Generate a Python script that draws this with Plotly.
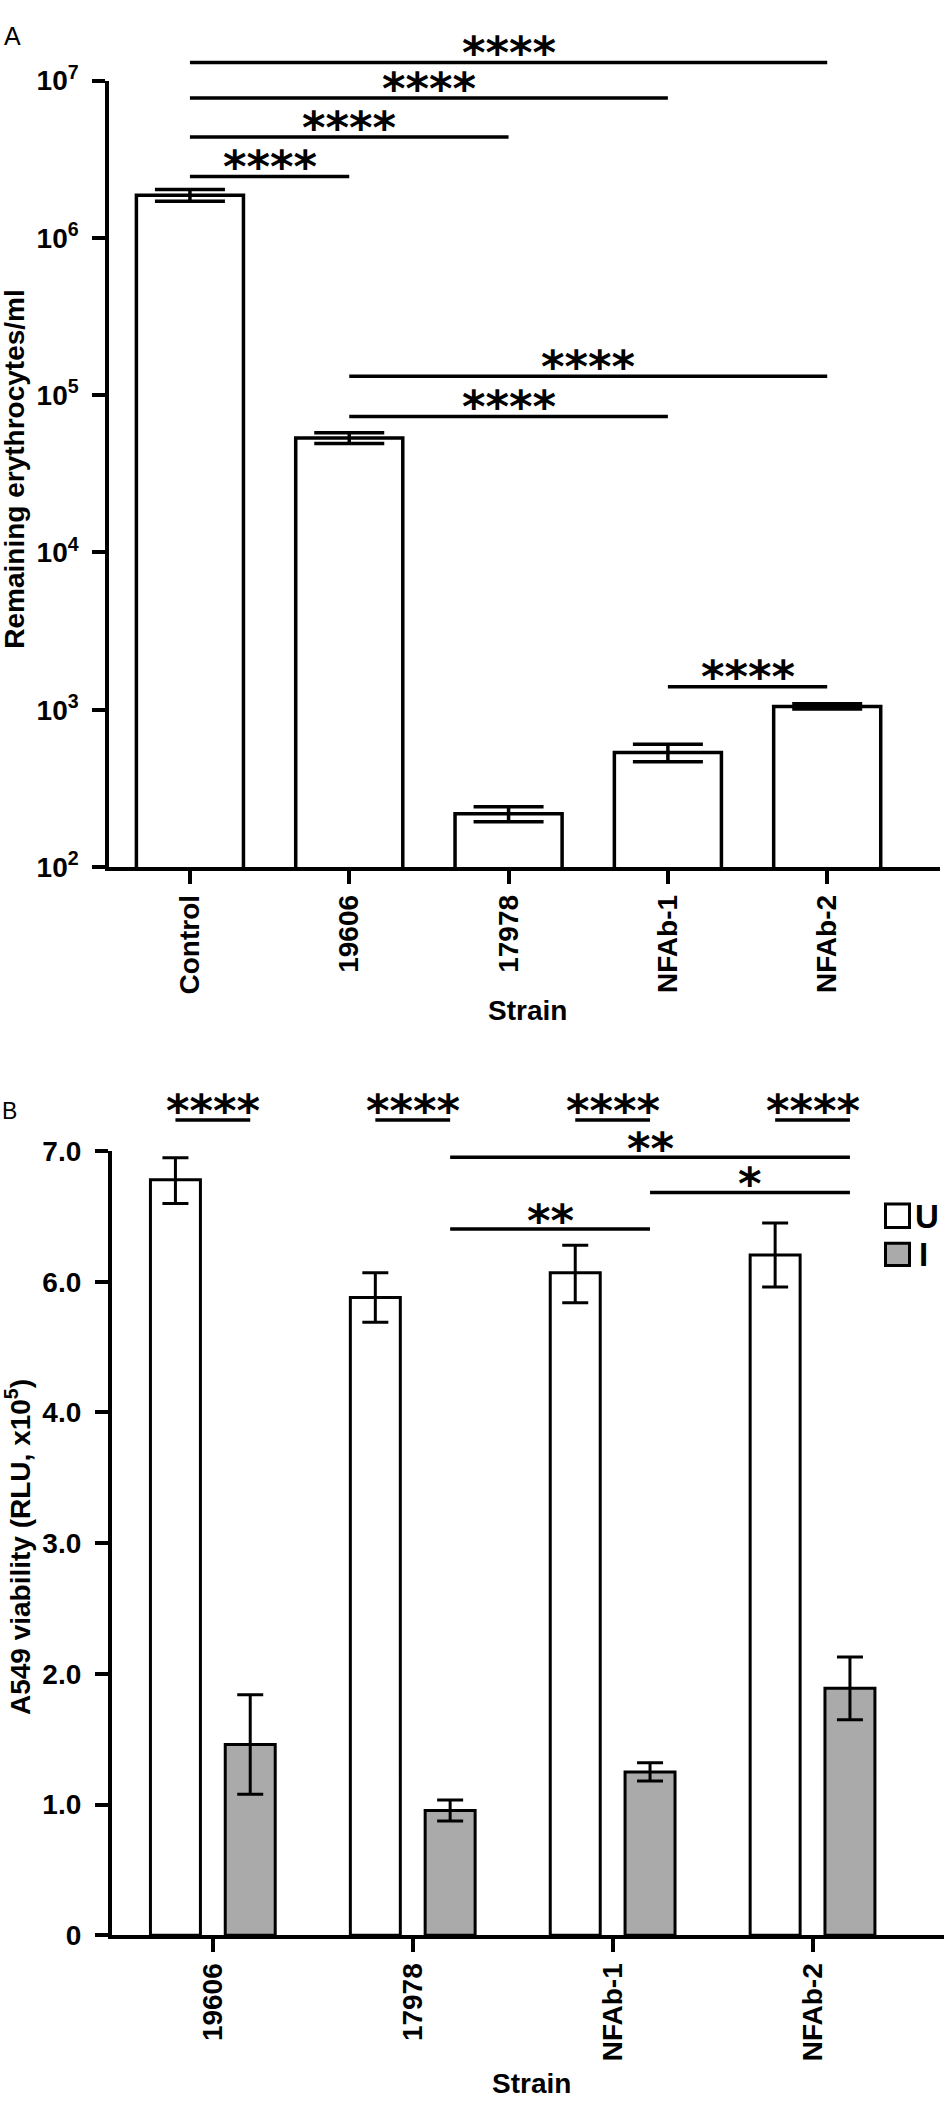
import plotly.graph_objects as go

# ---------------- data ----------------
strains_a = ["Control", "19606", "17978", "NFAb-1", "NFAb-2"]
erythro_mean = [1.87e6, 5.35e4, 218, 535, 1050]
erythro_err = [0.16e6, 0.42e4, 24, 68, 40]

strains_b = ["19606", "17978", "NFAb-1", "NFAb-2"]
u_mean = [6.78, 5.76, 6.07, 6.205]
u_upper = [6.95, 6.07, 6.28, 6.45]
u_lower = [6.60, 5.38, 5.68, 5.92]
i_mean = [1.46, 0.955, 1.25, 1.89]
i_err = [0.38, 0.08, 0.07, 0.24]

b_tick_values = [0, 1.0, 2.0, 3.0, 4.0, 6.0, 7.0]
b_tick_labels = ["0", "1.0", "2.0", "3.0", "4.0", "6.0", "7.0"]
a_tick_values = [1e2, 1e3, 1e4, 1e5, 1e6, 1e7]
a_tick_labels = ["10<sup>2</sup>", "10<sup>3</sup>", "10<sup>4</sup>",
                 "10<sup>5</sup>", "10<sup>6</sup>", "10<sup>7</sup>"]

# significance comparisons (indices of categories)
sig_a = [(0, 4, "****"), (0, 3, "****"), (0, 2, "****"), (0, 1, "****"),
         (1, 4, "****"), (1, 3, "****"), (3, 4, "****")]
sig_b_pairs = [(0, "****"), (1, "****"), (2, "****"), (3, "****")]
sig_b_groups = [(1, 3, "**"), (2, 3, "*"), (1, 2, "**")]

# ---------------- layout helpers ----------------
W, H = 946, 2113
FONT = "Liberation Sans, Arial, sans-serif"
STAR_FONT = dict(family="DejaVu Sans, sans-serif", size=45, color="black", weight="bold")


def py(p):
    return 1 - p / H


def pxp(p):
    return p / W


def seg(v):
    # broken y scale of panel B: 0-4 linear, 4-6 compressed, 6-7 linear
    if v <= 4:
        return v
    if v <= 6:
        return 4 + (v - 4) / 2
    return 5 + (v - 6)


fig = go.Figure()

# Panel A
fig.add_trace(go.Bar(
    x=strains_a, y=erythro_mean, width=0.672,
    marker=dict(color="white", line=dict(color="black", width=3.5)),
    error_y=dict(type="data", array=erythro_err, color="black", thickness=3.5, width=35),
    xaxis="x", yaxis="y", showlegend=False))

# Panel B
U_OFF, I_OFF, BW = -0.3127, 0.0615, 0.25
u_t = [seg(v) for v in u_mean]
fig.add_trace(go.Bar(
    x=strains_b, y=u_t, width=BW, offset=U_OFF, name="U",
    marker=dict(color="white", line=dict(color="black", width=3)),
    error_y=dict(type="data", symmetric=False,
                 array=[seg(h) - t for h, t in zip(u_upper, u_t)],
                 arrayminus=[t - seg(l) for l, t in zip(u_lower, u_t)],
                 color="black", thickness=3, width=13),
    xaxis="x2", yaxis="y2", showlegend=False))
fig.add_trace(go.Bar(
    x=strains_b, y=[seg(v) for v in i_mean], width=BW, offset=I_OFF, name="I",
    marker=dict(color="#aaaaaa", line=dict(color="black", width=3)),
    error_y=dict(type="data", array=i_err, color="black", thickness=3, width=13),
    xaxis="x2", yaxis="y2", showlegend=False))

shapes = []
annots = []

# Panel A brackets
a_levels = [43.3, 79.3, 119, 159.3, 362.3, 403.3, 678.3]
for (a, b, s), lv in zip(sig_a, a_levels):
    shapes.append(dict(type="line", xref="x", yref="paper", x0=a, x1=b,
                       y0=py(lv), y1=py(lv), line=dict(color="black", width=3.5)))
    annots.append(dict(xref="x", yref="paper", x=(a + b) / 2, y=py(lv - 10),
                       text=s, showarrow=False, yanchor="middle", font=STAR_FONT))

# Panel B brackets
uc, ic = U_OFF + BW / 2, I_OFF + BW / 2
for c, s in sig_b_pairs:
    lv = 1119
    shapes.append(dict(type="line", xref="x2", yref="paper", x0=c + uc, x1=c + ic,
                       y0=py(lv), y1=py(lv), line=dict(color="black", width=3.5)))
    annots.append(dict(xref="x2", yref="paper", x=c + (uc + ic) / 2, y=py(lv - 10),
                       text=s, showarrow=False, yanchor="middle", font=STAR_FONT))
for (a, b, s), lv in zip(sig_b_groups, [1157, 1192.7, 1230]):
    shapes.append(dict(type="line", xref="x2", yref="paper", x0=a + ic, x1=b + ic,
                       y0=py(lv), y1=py(lv), line=dict(color="black", width=3.5)))
    annots.append(dict(xref="x2", yref="paper", x=(a + b) / 2 + ic, y=py(lv - 9),
                       text=s, showarrow=False, yanchor="middle", font=STAR_FONT))

# Legend (panel B)
shapes.append(dict(type="rect", xref="paper", yref="paper",
                   x0=pxp(885.5), x1=pxp(909.5), y0=py(1228.5), y1=py(1204.5),
                   fillcolor="white", line=dict(color="black", width=3)))
shapes.append(dict(type="rect", xref="paper", yref="paper",
                   x0=pxp(885.5), x1=pxp(909.5), y0=py(1267), y1=py(1244.5),
                   fillcolor="#aaaaaa", line=dict(color="black", width=3)))
annots.append(dict(xref="paper", yref="paper", x=pxp(913), y=py(1217), text="U",
                   showarrow=False, xanchor="left", yanchor="middle",
                   font=dict(family=FONT, size=33, color="black", weight="bold")))
annots.append(dict(xref="paper", yref="paper", x=pxp(917), y=py(1256), text="I",
                   showarrow=False, xanchor="left", yanchor="middle",
                   font=dict(family=FONT, size=33, color="black", weight="bold")))

# Titles & panel labels
annots += [
    dict(xref="paper", yref="paper", x=pxp(2), y=py(16), text="A", showarrow=False,
         xanchor="left", yanchor="middle", font=dict(family=FONT, size=25, color="black")),
    dict(xref="paper", yref="paper", x=pxp(0), y=py(1110), text="B", showarrow=False,
         xanchor="left", yanchor="middle", font=dict(family=FONT, size=23, color="black")),
    dict(xref="paper", yref="paper", x=pxp(15), y=py(457.5), text="Remaining erythrocytes/ml",
         textangle=-90, showarrow=False, xanchor="center", yanchor="middle",
         font=dict(family=FONT, size=28, color="black", weight="bold")),
    dict(xref="paper", yref="paper", x=pxp(527), y=py(1008), text="Strain",
         showarrow=False, xanchor="center", yanchor="middle",
         font=dict(family=FONT, size=28, color="black", weight="bold")),
    dict(xref="paper", yref="paper", x=pxp(18), y=py(1553.5),
         text="A549 viability (RLU, x10<sup>5</sup>)",
         textangle=-90, showarrow=False, xanchor="center", yanchor="middle",
         font=dict(family=FONT, size=28, color="black", weight="bold")),
    dict(xref="paper", yref="paper", x=pxp(531), y=py(2099), text="Strain",
         showarrow=False, xanchor="center", yanchor="middle",
         font=dict(family=FONT, size=28, color="black", weight="bold")),
]

tickfont = dict(family=FONT, size=28, color="black", weight="bold")
axis_common = dict(showline=True, linecolor="black", linewidth=3.5, ticks="outside",
                   ticklen=13, tickwidth=3.5, tickcolor="black", showgrid=False,
                   zeroline=False, tickfont=tickfont, fixedrange=True)

fig.update_layout(
    width=W, height=H, margin=dict(l=0, r=0, t=0, b=0),
    paper_bgcolor="white", plot_bgcolor="white",
    barmode="overlay", showlegend=False,
    xaxis=dict(domain=[pxp(109), pxp(940)], anchor="y", type="category",
               range=[-0.508, 4.708], tickangle=-90, **axis_common),
    yaxis=dict(domain=[py(861.7), py(61.7)], anchor="x", type="log", range=[2, 7],
               tickvals=a_tick_values, ticktext=a_tick_labels, ticklabelstandoff=8,
               **axis_common),
    xaxis2=dict(domain=[pxp(111.6), pxp(944)], anchor="y2", type="category",
                range=[-0.507, 3.657], tickangle=-90, **axis_common),
    yaxis2=dict(domain=[py(1948.5), py(1150.7)], anchor="x2", range=[0, 6],
                tickvals=[seg(v) for v in b_tick_values], ticktext=b_tick_labels,
                ticklabelstandoff=8, **axis_common),
    shapes=shapes, annotations=annots,
)

fig.write_html("out.html", config={"displayModeBar": False},
               post_script="document.body.style.margin='0';"
                           "document.body.style.overflow='hidden';")
